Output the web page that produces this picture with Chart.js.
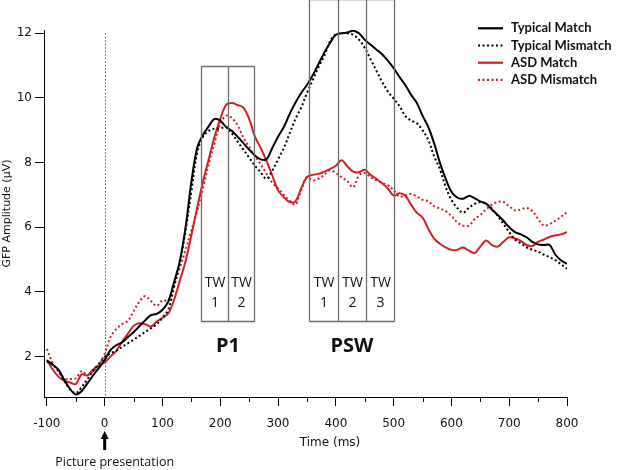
<!DOCTYPE html>
<html>
<head>
<meta charset="utf-8">
<script src="https://cdn.jsdelivr.net/npm/chart.js@4"></script>
<style>
  body { margin: 0; background: #fff; }
  canvas { display: block; }
</style>
</head>
<body>
<canvas id="gfp" width="617" height="470"></canvas>
<script>
// time axis (ms), 10 ms steps
const times = [
  -100, -90, -80, -70, -60, -50, -40, -30, -20, -10,
  0, 10, 20, 30, 40, 50, 60, 70, 80, 90,
  100, 110, 120, 130, 140, 150, 160, 170, 180, 190,
  200, 210, 220, 230, 240, 250, 260, 270, 280, 290,
  300, 310, 320, 330, 340, 350, 360, 370, 380, 390,
  400, 410, 420, 430, 440, 450, 460, 470, 480, 490,
  500, 510, 520, 530, 540, 550, 560, 570, 580, 590,
  600, 610, 620, 630, 640, 650, 660, 670, 680, 690,
  700, 710, 720, 730, 740, 750, 760, 770, 780, 790,
  800
];

// GFP amplitude (µV)
const typicalMatch = [
  1.88, 1.75, 1.6, 1.28, 1.0, 0.83, 0.93, 1.17, 1.42, 1.65,
  1.9, 2.2, 2.35, 2.44, 2.6, 2.75, 2.94, 3.12, 3.28, 3.32,
  3.45, 3.7, 4.3, 4.95, 6.0, 7.4, 8.45, 8.85, 9.12, 9.35,
  9.3, 9.1, 8.98, 8.8, 8.6, 8.4, 8.22, 8.1, 8.1, 8.45,
  8.8, 9.1, 9.5, 9.85, 10.15, 10.4, 10.7, 11.05, 11.4, 11.7,
  11.95, 12.0, 12.02, 12.08, 12.0, 11.8, 11.65, 11.5, 11.35, 11.15,
  10.92, 10.65, 10.4, 10.1, 9.85, 9.45, 9.1, 8.6, 8.0, 7.5,
  7.1, 6.92, 6.88, 6.97, 6.9, 6.8, 6.73, 6.55, 6.38, 6.2,
  6.0, 5.85, 5.78, 5.69, 5.55, 5.47, 5.45, 5.45, 5.15, 4.97,
  4.87
];
const typicalMismatch = [
  1.85, 1.75, 1.55, 1.25, 0.98, 0.87, 1.05, 1.3, 1.55, 1.78,
  1.98, 2.1, 2.18, 2.3, 2.41, 2.52, 2.64, 2.76, 2.87, 3.0,
  3.2, 3.45, 4.15, 4.9, 5.9, 7.1, 8.3, 8.8, 8.98, 9.05,
  9.05, 9.1, 8.9, 8.65, 8.4, 8.15, 7.9, 7.7, 7.5, 7.75,
  8.1, 8.45, 8.9, 9.35, 9.7, 10.15, 10.55, 10.95, 11.3, 11.75,
  11.97, 12.0, 12.0, 11.95, 11.8, 11.55, 11.2, 10.85, 10.5, 10.2,
  9.98, 9.75, 9.45, 9.3, 9.22, 9.0, 8.7, 8.2, 7.8, 7.25,
  6.85, 6.6, 6.45, 6.6, 6.72, 6.78, 6.72, 6.58, 6.35, 6.1,
  5.85, 5.62, 5.5, 5.38, 5.3, 5.25, 5.15, 5.07, 4.98, 4.85,
  4.72
];
const asdMatch = [
  1.9, 1.6, 1.38, 1.25, 1.2, 1.15, 1.45, 1.42, 1.6, 1.72,
  1.82, 2.0, 2.18, 2.45, 2.7, 2.95, 3.03, 3.0, 2.93, 3.08,
  3.2, 3.33, 3.75, 4.35, 4.95, 5.75, 6.6, 7.4, 8.1, 8.79,
  9.35, 9.78, 9.84, 9.78, 9.7, 9.35, 8.8, 8.45, 8.05, 7.6,
  7.14, 6.93, 6.78, 6.8, 7.2, 7.55, 7.62, 7.65, 7.72, 7.8,
  7.9, 8.07, 7.88, 7.72, 7.7, 7.78, 7.62, 7.5, 7.36, 7.2,
  6.98, 7.05, 6.98, 6.7, 6.45, 6.3, 5.95, 5.65, 5.49, 5.38,
  5.3, 5.3, 5.37, 5.28, 5.2, 5.4, 5.59, 5.45, 5.4, 5.55,
  5.69, 5.65, 5.58, 5.45, 5.42, 5.55, 5.62, 5.7, 5.75, 5.78,
  5.85
];
const asdMismatch = [
  2.24, 1.8, 1.55, 1.32, 1.31, 1.33, 1.55, 1.42, 1.55, 1.75,
  2.08, 2.6, 2.85, 3.0, 3.1, 3.4, 3.7, 3.87, 3.72, 3.57,
  3.74, 3.74, 4.2, 4.75, 5.3, 5.9, 6.5, 7.2, 7.95, 8.6,
  9.2, 9.45, 9.38, 9.15, 8.78, 8.48, 8.2, 7.95, 7.65, 7.38,
  7.2, 7.0, 6.82, 6.7, 7.15, 7.55, 7.45, 7.5, 7.62, 7.76,
  7.68, 7.55, 7.42, 7.24, 7.6, 7.68, 7.55, 7.45, 7.37, 7.3,
  7.15, 6.95, 6.98, 7.03, 6.95, 6.85, 6.8, 6.65, 6.58, 6.5,
  6.35, 6.15, 6.05, 6.05, 6.25, 6.38, 6.55, 6.7, 6.78, 6.78,
  6.65, 6.52, 6.55, 6.6, 6.5, 6.26, 6.05, 6.1, 6.2, 6.33,
  6.47
];

const xTickValues = [-100, 0, 100, 200, 300, 400, 500, 600, 700, 800];
const xMinorTicks = [-50, 50, 150, 250, 350, 450, 550, 650, 750];
const yTickValues = [2, 4, 6, 8, 10, 12];

// analysis time windows (ms)
const p1Edges = [166, 213, 259];
const pswEdges = [353, 403, 452, 501];

const BLACK = "#000000";
const RED = "#d21f25";

function pts(vals) {
  return times.map((t, i) => ({ x: t, y: vals[i] }));
}

const decor = {
  id: "decor",
  beforeDatasetsDraw(chart) {
    const { ctx, scales: { x, y }, chartArea } = chart;
    // picture onset
    const x0 = Math.round(x.getPixelForValue(0)) + 0.5;
    ctx.save();
    ctx.strokeStyle = "#555";
    ctx.lineWidth = 1;
    ctx.setLineDash([1.5, 2]);
    ctx.beginPath();
    ctx.moveTo(x0, y.getPixelForValue(12));
    ctx.lineTo(x0, chartArea.bottom);
    ctx.stroke();
    ctx.restore();
  },
  afterDatasetsDraw(chart) {
    const { ctx, scales: { x, y }, chartArea } = chart;
    ctx.save();

    function windows(edges, topVal, name) {
      const top = Math.round(y.getPixelForValue(topVal)) + 0.5;
      const bot = Math.round(y.getPixelForValue(3.1)) + 0.5;
      const xs = edges.map(e => Math.round(x.getPixelForValue(e)) + 0.5);
      ctx.strokeStyle = "#6e6e6e";
      ctx.lineWidth = 1.3;
      ctx.beginPath();
      ctx.moveTo(xs[0], top);
      ctx.lineTo(xs[xs.length - 1], top);
      ctx.moveTo(xs[0], bot);
      ctx.lineTo(xs[xs.length - 1], bot);
      xs.forEach(px => { ctx.moveTo(px, top); ctx.lineTo(px, bot); });
      ctx.stroke();

      ctx.fillStyle = "#111";
      ctx.textAlign = "center";
      ctx.textBaseline = "middle";
      ctx.font = "14px 'Open Sans'";
      for (let i = 0; i < xs.length - 1; i++) {
        const cx = (xs[i] + xs[i + 1]) / 2;
        ctx.fillText("TW", cx, y.getPixelForValue(4.26));
        ctx.fillText(String(i + 1), cx, y.getPixelForValue(3.67));
      }
      ctx.font = "bold 20px 'Open Sans'";
      ctx.fillText(name, (xs[0] + xs[xs.length - 1]) / 2, y.getPixelForValue(2.32));
    }
    windows(p1Edges, 11.0, "P1");
    windows(pswEdges, 13.05, "PSW");

    // minor x ticks
    ctx.strokeStyle = BLACK;
    ctx.lineWidth = 1;
    ctx.beginPath();
    xMinorTicks.forEach(v => {
      const px = Math.round(x.getPixelForValue(v)) + 0.5;
      ctx.moveTo(px, chartArea.bottom);
      ctx.lineTo(px, chartArea.bottom + 5);
    });
    ctx.stroke();

    // x title
    ctx.fillStyle = "#111";
    ctx.font = "12px 'DejaVu Sans'";
    ctx.textAlign = "center";
    ctx.textBaseline = "middle";
    ctx.fillText("Time (ms)", x.getPixelForValue(390), chartArea.bottom + 46);

    // onset arrow + note
    const ax = x.getPixelForValue(0);
    const ay = chartArea.bottom + 34;
    ctx.fillStyle = BLACK;
    ctx.beginPath();
    ctx.moveTo(ax, ay);
    ctx.lineTo(ax - 4, ay + 8);
    ctx.lineTo(ax + 4, ay + 8);
    ctx.closePath();
    ctx.fill();
    ctx.fillRect(ax - 1.5, ay + 7, 3, 12);
    ctx.font = "12.5px 'Open Sans'";
    ctx.fillStyle = "#111";
    ctx.fillText("Picture presentation", ax + 10, chartArea.bottom + 65);

    // legend
    const lx = 478, ly = 28.3, step = 17.2;
    chart.data.datasets.forEach((ds, i) => {
      const yy = ly + i * step;
      ctx.strokeStyle = ds.borderColor;
      ctx.lineWidth = 2.2;
      ctx.setLineDash(ds.borderDash || []);
      ctx.beginPath();
      ctx.moveTo(lx, yy);
      ctx.lineTo(lx + 25, yy);
      ctx.stroke();
      ctx.setLineDash([]);
      ctx.fillStyle = "#111";
      ctx.font = "bold 13px Lato";
      ctx.textAlign = "left";
      ctx.fillText(ds.label, lx + 33, yy);
    });
    ctx.restore();
  }
};

const lineStyle = {
  pointRadius: 0,
  borderWidth: 2,
  tension: 0.35,
  fill: false
};

new Chart(document.getElementById("gfp"), {
  type: "line",
  data: {
    datasets: [
      { label: "Typical Match", data: pts(typicalMatch), borderColor: BLACK, ...lineStyle },
      { label: "Typical Mismatch", data: pts(typicalMismatch), borderColor: BLACK, borderDash: [2, 2.5], ...lineStyle },
      { label: "ASD Match", data: pts(asdMatch), borderColor: RED, ...lineStyle },
      { label: "ASD Mismatch", data: pts(asdMismatch), borderColor: RED, borderDash: [2, 2.5], ...lineStyle }
    ]
  },
  options: {
    responsive: false,
    animation: false,
    layout: { padding: { left: 0, right: 50, top: 30, bottom: 0 } },
    plugins: {
      legend: { display: false },
      tooltip: { enabled: false }
    },
    scales: {
      x: {
        type: "linear",
        min: -105,
        max: 800,
        afterBuildTicks: s => { s.ticks = xTickValues.map(v => ({ value: v })); },
        afterFit: s => { s.height = 73; },
        grid: { drawOnChartArea: false, drawTicks: true, tickLength: 9, color: BLACK },
        border: { display: true, color: BLACK, width: 1 },
        ticks: { font: { family: "DejaVu Sans", size: 12 }, color: "#111", padding: 11, maxRotation: 0 }
      },
      y: {
        min: 0.75,
        max: 12.1,
        afterBuildTicks: s => { s.ticks = yTickValues.map(v => ({ value: v })); },
        afterFit: s => { s.width = 44; },
        grid: { drawOnChartArea: false, drawTicks: true, tickLength: 9, color: BLACK },
        border: { display: true, color: BLACK, width: 1 },
        ticks: { font: { family: "DejaVu Sans", size: 12 }, color: "#111", padding: 3 },
        title: {
          display: true,
          text: "GFP Amplitude (µV)",
          font: { family: "DejaVu Sans", size: 11 },
          color: "#111",
          padding: { top: 1, bottom: 0 }
        }
      }
    }
  },
  plugins: [decor]
});
</script>
</body>
</html>
